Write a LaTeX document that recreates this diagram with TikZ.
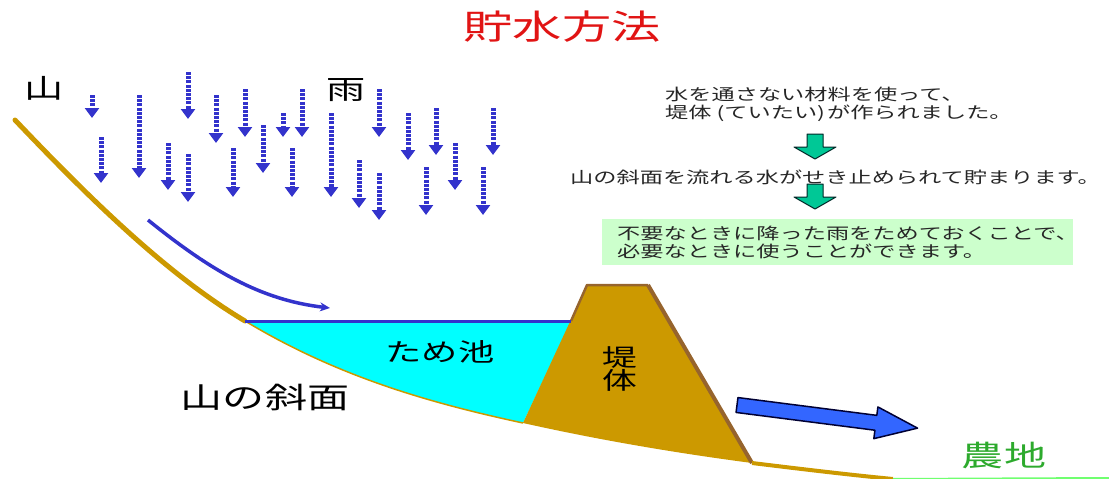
\documentclass[tikz,border=0pt]{standalone}
\usepackage{fontspec}
\newfontfamily\jp[FakeStretch=1.45]{Noto Sans CJK JP}
\usetikzlibrary{arrows.meta,calc}

\definecolor{rainblue}{RGB}{51,51,204}
\definecolor{earth}{RGB}{204,153,0}
\definecolor{damedge}{RGB}{150,100,45}
\definecolor{pond}{RGB}{0,255,255}
\definecolor{mint}{RGB}{0,200,150}
\definecolor{memogreen}{RGB}{204,255,204}
\definecolor{outflow}{RGB}{51,102,255}
\definecolor{titlered}{RGB}{225,20,20}
\definecolor{fieldgreen}{RGB}{45,170,45}

\begin{document}
\begin{tikzpicture}[x=1pt,y=-1pt,
    rain/.style={rainblue,line width=5pt,dash pattern=on 3pt off 1.2pt,-{Triangle[length=10pt,width=14pt]}},
    jptext/.style={font=\jp\fontsize{#1}{#1}\selectfont,inner sep=0pt},
    memo/.style={font=\jp\fontsize{16}{18}\selectfont,text=black!85,inner sep=0pt,align=left}]
    \useasboundingbox (0,0) rectangle (1109,479);

    % points on the hillside
    \coordinate (ridge) at (15,120);
    \coordinate (shore) at (245,321);
    \coordinate (bed) at (523,423);
    \coordinate (toe) at (752,463);
    \coordinate (plain) at (893,479);
    \coordinate (edge) at (1109,478);
    \coordinate (damwet) at (571,321);
    \coordinate (damtl) at (587,285);
    \coordinate (damtr) at (648,285);

    % pond and dam body
    \fill[pond] (shore) .. controls (338,377) and (430,403) .. (bed) -- (damwet) -- cycle;
    \fill[earth] (bed) .. controls (599,440) and (676,453) .. (toe) -- (damtr) -- (damtl) -- cycle;
    \draw[damedge,line width=2.5pt,line join=round] (damwet) -- (damtl) -- (damtr);
    \draw[damedge,line width=4pt] (damtr) -- (toe);

    % hillside
    \draw[earth,line width=5pt,line cap=round] (ridge) .. controls (92,201) and (168,275) .. (shore);
    \draw[earth,line width=1.5pt] (shore) .. controls (338,377) and (430,403) .. (bed);
    \draw[earth,line width=4pt] (toe) .. controls (801,469) and (851,475) .. (plain);
    \draw[green!45!memogreen,line width=2pt] (plain) -- (edge);

    % water surface
    \draw[rainblue,line width=3pt] (shore) -- (damwet);

    % rain
    \foreach \x/\a/\b in {92/95/118, 101/137/183, 139/95/178, 188/72/119, 168/143/190,
        188/154/202, 216/95/143, 245/89/137, 233/148/197, 263/125/173, 283/113/137,
        302/89/137, 292/148/197, 331/113/197, 359/160/208, 379/89/137, 379/173/220,
        408/113/160, 436/108/155, 426/167/215, 455/143/190, 493/108/155, 483/167/215}
        \draw[rain] (\x,\a) -- (\x,\b);

    % run-off along the slope
    \coordinate (runoff) at (148,220);
    \coordinate (inflow) at (330,308);
    \draw[rainblue,line width=3.5pt,-{Stealth[length=10pt,width=9pt]}] (runoff) .. controls (210,270) and (260,300) .. (inflow);

    % water sent to the fields
    \begin{scope}[shift={(737,405)},rotate=-7.3]
        \filldraw[fill=outflow,draw=black!80!blue,line width=1.5pt,line join=round]
            (0,-7.5) -- (140,-7.5) -- (140,-16) -- (182,0) -- (140,16) -- (140,7.5) -- (0,7.5) -- cycle;
    \end{scope}

    % labels
    \node[jptext=34,text=titlered] (title) at (562,27) {貯水方法};
    \node[jptext=27] (yama) at (44,88) {山};
    \node[jptext=27] (ame) at (346,90) {雨};
    \node[jptext=29] (hillside) at (265,397) {山の斜面};
    \node[jptext=25] (pondname) at (440,352) {ため池};
    \node[jptext=24,font=\jp\fontsize{24}{22}\selectfont,align=center] (damname) at (620,369) {堤\\体};
    \node[jptext=29,text=fieldgreen] (farm) at (1004,456) {農地};

    % explanation
    \node[memo,anchor=west] (sealing) at (665,104) {水を通さない材料を使って、\\堤体\hspace{5pt}(ていたい)\hspace{2pt}が作られました。};
    \node[memo,anchor=west] (storage) at (570,177) {山の斜面を流れる水がせき止められて貯まります。};
    \node[memo,fill=memogreen,anchor=north west,text width=441pt,inner xsep=15pt,minimum height=46pt] (merit) at (602,219)
        {不要なときに降った雨をためておくことで、\\必要なときに使うことができます。};
    \foreach \t in {134,184}
        \filldraw[fill=mint,draw=black!70!teal,line width=1pt,line join=round]
            (807,\t) -- (823,\t) -- (823,\t+13) -- (836,\t+13) -- (815,\t+25) -- (794,\t+13) -- (807,\t+13) -- cycle;
\end{tikzpicture}
\end{document}
